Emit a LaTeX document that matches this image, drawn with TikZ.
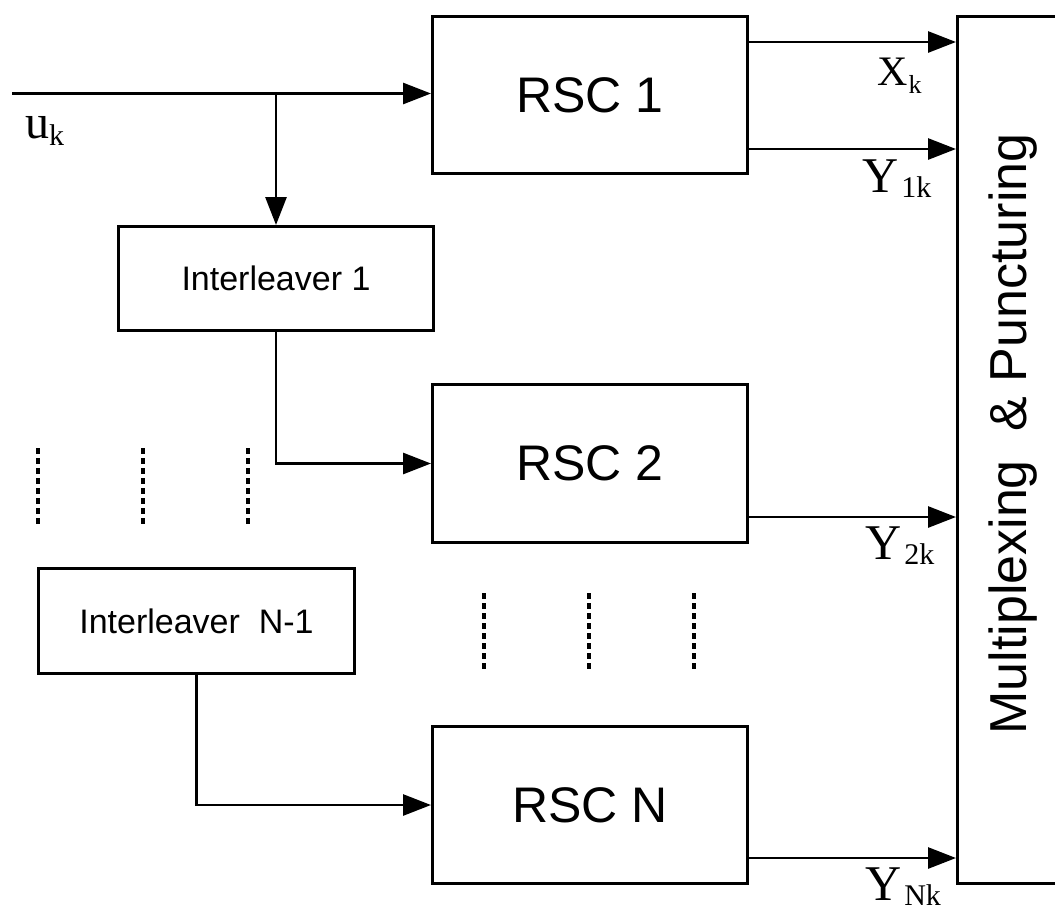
\documentclass[tikz,border=0pt]{standalone}
\usepackage{fontspec}
\setmainfont{Liberation Serif}
\setsansfont{Liberation Sans}
\usetikzlibrary{arrows.meta}
\newcommand{\fs}[1]{\fontsize{#1}{#1}\selectfont}
\tikzset{
  blk/.style={draw, line width=3pt, anchor=north west, inner sep=0pt, font=\sffamily\fs{50}},
  ilv/.style={blk, font=\sffamily\fs{34}},
  arr/.style={line width=2.8pt, -{Triangle[length=28pt,width=21pt]}},
  dots/.style={line width=3.2pt, dash pattern=on 6pt off 4pt},
  lab/.style={anchor=base west, inner sep=0pt, font=\rmfamily}
}
\begin{document}
\begin{tikzpicture}[x=1pt,y=-1pt]
\useasboundingbox (0,0) rectangle (1055,914);
% blocks
\node[blk, minimum width=315pt, minimum height=157pt] (rsc1) at (431,15) {RSC 1};
\node[blk, minimum width=315pt, minimum height=158pt] (rsc2) at (431,383) {RSC 2};
\node[blk, minimum width=315pt, minimum height=157pt] (rscn) at (431,725) {RSC N};
\node[ilv, minimum width=315pt, minimum height=104pt] (int1) at (117,225) {Interleaver 1};
\node[ilv, minimum width=316pt, minimum height=105pt] (intn) at (37,567) {Interleaver\ \ N-1};
\node[blk, minimum width=112pt, minimum height=867pt] (mux) at (956,15) {};
\node[rotate=90, anchor=base, inner sep=0pt, font=\sffamily\fs{52}] (muxtext) at (1026,434) {Multiplexing\ \ \& Puncturing};
% input
\coordinate (in) at (12,93.5);
\coordinate (br) at (int1.north |- in);
\draw[arr] (in) -- (in -| rsc1.west);
\draw[arr] (br) -- (int1.north);
\draw[arr] (int1.south) |- (rsc2.west);
\draw[arr] (intn.south) |- (rscn.west);
% outputs
\draw[arr] ([yshift=-27pt]rsc1.north east) coordinate (xk) -- (xk -| mux.west);
\draw[arr] ([yshift=26pt]rsc1.south east) coordinate (y1) -- (y1 -| mux.west);
\draw[arr] ([yshift=27pt]rsc2.south east) coordinate (y2) -- (y2 -| mux.west);
\draw[arr] ([yshift=27pt]rscn.south east) coordinate (yn) -- (yn -| mux.west);
% labels
\node[lab] (luk) at (25,138) {\fs{48}u\raisebox{-7pt}{\fs{30}k}};
\node[lab] (lxk) at (877,85) {\fs{42}X\hspace{1pt}\raisebox{-8pt}{\fs{26}k}};
\node[lab] (ly1) at (862,192) {\fs{50}Y\hspace{3pt}\raisebox{-5pt}{\fs{30}1k}};
\node[lab] (ly2) at (865,559) {\fs{50}Y\hspace{3pt}\raisebox{-5pt}{\fs{30}2k}};
\node[lab] (lyn) at (865,900) {\fs{50}Y\hspace{3pt}\raisebox{-5pt}{\fs{30}Nk}};
% dotted continuation marks
\foreach \x in {38,143,248} \draw[dots] (\x,448) -- (\x,527);
\foreach \x in {484,589,694} \draw[dots] (\x,593) -- (\x,672);
\end{tikzpicture}
\end{document}
